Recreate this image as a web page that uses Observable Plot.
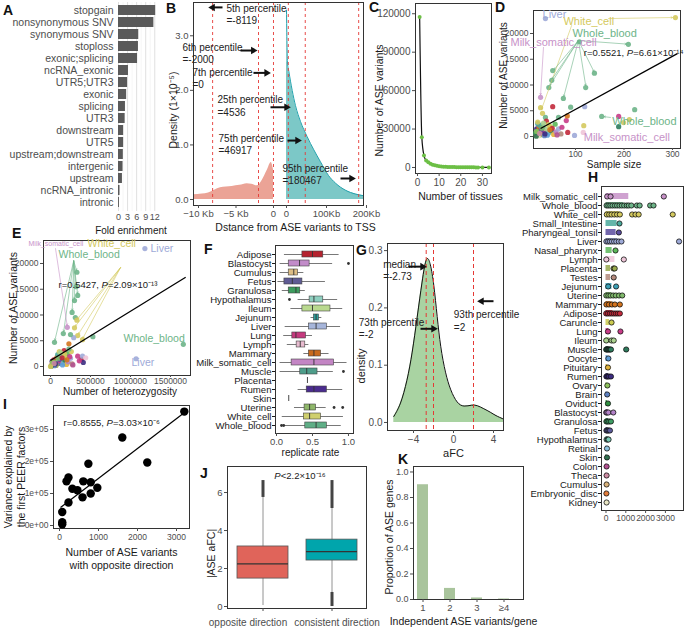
<!DOCTYPE html>
<html><head><meta charset="utf-8">
<script src="https://cdn.jsdelivr.net/npm/d3@7"></script>
<script src="https://cdn.jsdelivr.net/npm/@observablehq/plot@0.6"></script>
<style>
body{margin:0;background:#fff;}
#fig{position:relative;width:685px;height:628px;overflow:hidden;background:#fff;font-family:"Liberation Sans",Arial,Helvetica,sans-serif;}
.panel{position:absolute;}
.panel svg{max-width:none !important;overflow:visible;}
.lbl{position:absolute;font-weight:bold;font-size:14px;line-height:1;color:#111;font-family:"Liberation Sans",Arial,sans-serif;}
</style></head><body><div id="fig"></div><script>
// ================= DATA =================
// A
const annoCategories = ["stopgain","nonsynonymous SNV","synonymous SNV","stoploss","exonic;splicing","ncRNA_exonic","UTR5;UTR3","exonic","splicing","UTR3","downstream","UTR5","upstream;downstream","intergenic","upstream","ncRNA_intronic","intronic"];
const foldEnrichment = [12.3, 11.7, 6.7, 6.6, 6.3, 3.3, 3.0, 2.7, 2.3, 2.2, 1.7, 1.7, 1.6, 1.5, 1.3, 0.5, 0.3];
const foldTicks = [0, 3, 6, 9, 12];
// B
const upstreamPos = [-10667, -9500, -8667, -7067, -5511, -4500, -3511, -2900, -2178, -1511, -844, -311, -1];
const upstreamDensity = [0.086, 0.10, 0.12, 0.215, 0.24, 0.26, 0.29, 0.28, 0.25, 0.35, 0.53, 0.68, 0.55];
const downstreamPos = [0, 2500, 5800, 14200, 22500, 35000, 51700, 68300, 85000, 105000, 122500, 147500, 172500, 192500];
const downstreamDensity = [3.47, 2.5, 2.35, 2.0, 1.72, 1.43, 1.15, 0.91, 0.69, 0.44, 0.3, 0.17, 0.1, 0.07];
const tssPercentiles = [-8119, -2000, -1, 4536, 46917, 180467]; // -1 = TSS on upstream side
const tssTickValues = [-10000, -5000, -1, 0, 100000, 200000];
const tssTickLabels = ["\u221210 Kb", "\u22125 Kb", "0", "0", "100Kb", "200Kb"];
const bNotes = [
  {label: "5th percentile\n=-8119", x: -6267, y: 3.60},
  {label: "6th percentile\n=-2000", x: -12133, y: 2.89},
  {label: "7th percentile\n=0", x: -10800, y: 2.43},
  {label: "25th percentile\n=4536", x: -7467, y: 1.93},
  {label: "75th percentile\n=46917", x: -7333, y: 1.22}
];
const bNote95 = [{label: "95th percentile\n=180467", x: 0, y: 0.67}];
const bArrows = [
  {x1: -6800, x2: -8119, y: 3.52},
  {x1: -4400, x2: -2700, y: 2.73},
  {x1: -2670, x2: -930, y: 2.32},
  {x1: -400, x2: 0, y: 1.69},
  {x1: 2500, x2: 27500, y: 1.08},
  {x1: 135000, x2: 162500, y: 0.385}
];
// C
const tissueCount = [1,2,3,4,5,6,7,8,9,10,11,12,13,14,15,16,17,18,19,20,21,22,23,24,25,26,27,28,30,33];
const aseByTissueCount = [117500,23500,9300,5400,4100,3000,2200,1700,1300,1000,800,650,550,450,380,330,290,250,220,190,170,150,130,115,100,90,80,70,40,25];
// tissues & colours (D, E, H)
const hTissues = ["Milk_somatic_cell","Whole_blood","White_cell","Small_Intestine","Pharyngeal_tonsil","Liver","Nasal_pharynx","Lymph","Placenta","Testes","Jejunum","Uterine","Mammary","Adipose","Caruncle","Lung","Ileum","Muscle","Oocyte","Pituitary","Rumen","Ovary","Brain","Oviduct","Blastocyst","Granulosa","Fetus","Hypothalamus","Retinal","Skin","Colon","Theca","Cumulus","Embryonic_disc","Kidney"];
const hColors = ["#c792c8","#6db488","#d4c95e","#4aa99b","#5a4c9e","#9eaad8","#5db75a","#eec5d8","#98a84c","#b3897c","#3ba0b6","#80ba6c","#d4741e","#c2293b","#cbcb50","#c83c88","#aad18f","#2e7b5d","#5c9bd6","#e2b43b","#3c2c80","#8cc05b","#5d80c0","#308f40","#b382c8","#3e9c63","#5b5b9b","#78c8b2","#8cc0dd","#30704f","#b25190","#cb8ba2","#d8b27c","#e27c3b","#e8e5c4"];
const hBar = [1150,900,700,560,510,600,310,450,230,230,300,300,300,350,180,140,200,150,100,80,120,60,50,80,100,120,100,80,40,40,30,30,30,20,30];
const hPoints = [
 ["Milk_somatic_cell",60],["Milk_somatic_cell",230],["Milk_somatic_cell",2920],
 ["Whole_blood",30],["Whole_blood",120],["Whole_blood",220],["Whole_blood",330],["Whole_blood",450],["Whole_blood",560],["Whole_blood",680],["Whole_blood",800],["Whole_blood",920],["Whole_blood",1050],["Whole_blood",1150],["Whole_blood",1280],["Whole_blood",1560],["Whole_blood",1700],["Whole_blood",2230],["Whole_blood",2400],
 ["White_cell",40],["White_cell",160],["White_cell",280],["White_cell",420],["White_cell",560],["White_cell",700],["White_cell",1320],["White_cell",1490],["White_cell",1650],["White_cell",3370],
 ["Small_Intestine",680],["Pharyngeal_tonsil",650],
 ["Liver",20],["Liver",110],["Liver",200],["Liver",300],["Liver",410],["Liver",520],["Liver",650],["Liver",780],["Liver",3690],
 ["Nasal_pharynx",480],["Lymph",15],["Lymph",900],["Placenta",380],["Placenta",440],["Testes",390],
 ["Jejunum",110],["Jejunum",510],
 ["Uterine",15],["Uterine",120],["Uterine",230],["Uterine",360],["Uterine",500],["Uterine",660],["Uterine",820],
 ["Mammary",20],["Mammary",150],["Mammary",300],["Mammary",450],["Mammary",700],
 ["Adipose",10],["Adipose",100],["Adipose",200],["Adipose",300],["Adipose",400],["Adipose",500],["Adipose",600],["Adipose",700],
 ["Caruncle",280],["Lung",100],["Lung",730],["Ileum",10],["Ileum",280],["Ileum",390],
 ["Muscle",10],["Muscle",50],["Muscle",100],["Muscle",150],["Muscle",200],["Muscle",250],["Muscle",1020],
 ["Oocyte",120],["Pituitary",100],["Rumen",20],["Rumen",80],["Rumen",150],["Rumen",250],["Ovary",70],["Brain",60],["Oviduct",100],
 ["Blastocyst",10],["Blastocyst",50],["Blastocyst",120],["Blastocyst",370],
 ["Granulosa",20],["Granulosa",80],["Granulosa",160],["Granulosa",250],
 ["Fetus",20],["Fetus",70],["Fetus",130],["Fetus",200],
 ["Hypothalamus",30],["Hypothalamus",90],["Hypothalamus",130],
 ["Retinal",50],["Skin",50],["Colon",30],["Theca",30],["Cumulus",30],["Embryonic_disc",20],["Kidney",30]
];
const hTicks = [0, 1000, 2000, 3000];
// D  [sample size, ASE variants, tissue]
const dPoints = [
 [38,22900,"Liver"],[306,23100,"White_cell"],[209,17900,"Whole_blood"],[108,18400,"Whole_blood"],
 [53,12800,"Whole_blood"],[139,12300,"Whole_blood"],[121,9500,"Whole_blood"],[51,10900,"Whole_blood"],
 [45,9500,"Whole_blood"],[75,7400,"Whole_blood"],[28,7600,"Milk_somatic_cell"],[119,5800,"Liver"],
 [222,5200,"Whole_blood"],[154,3900,"Whole_blood"],[90,5700,"Whole_blood"],[53,5800,"Adipose"],
 [81,3100,"Lung"],[83,4000,"Mammary"],[117,2100,"White_cell"],[116,800,"Lymph"],[189,3900,"Lung"],
 [189,1900,"Muscle"],[199,2700,"White_cell"],[211,3300,"White_cell"],[84,800,"Adipose"],[98,200,"Liver"],
 [32,4500,"White_cell"],[28,5600,"White_cell"],[38,3700,"Whole_blood"],[65,3700,"Whole_blood"],[22,2500,"Jejunum"],
 [20,1500,"Rumen"],[24,1200,"Adipose"],[21,900,"Uterine"],[25,1800,"Mammary"],[30,600,"Fetus"],[35,1000,"Lung"],
 [40,1400,"Ileum"],[45,700,"Hypothalamus"],[50,1100,"Muscle"],[55,400,"Pituitary"],[60,900,"Blastocyst"],
 [19,300,"Cumulus"],[26,2200,"Small_Intestine"],[18,700,"Granulosa"],[27,300,"Placenta"],[33,2000,"Whole_blood"],
 [42,250,"Oocyte"],[48,1900,"Caruncle"],[65,1500,"Liver"],[70,500,"Testes"],[22,2800,"White_cell"],
 [23,100,"Kidney"],[36,150,"Brain"],[58,2400,"Nasal_pharynx"],[19,50,"Skin"],[29,1300,"Pharyngeal_tonsil"],
 [40,3000,"Adipose"],[72,1800,"Lung"],[20,1000,"Ovary"],[31,1600,"Uterine"],[44,2300,"White_cell"],
 [37,500,"Rumen"],[52,1600,"Adipose"],[62,300,"Colon"],[26,600,"Theca"],[34,2600,"Ileum"],[47,1300,"Mammary"]
];
const dFit = [[28, 1550], [310, 16100]];
const dLabels = [
 ["Liver", 32, 23700, "Liver"], ["White_cell", 75, 22300, "White_cell"], ["Whole_blood", 94, 20000, "Whole_blood"],
 ["Milk_somatic_cell", -34, 18250, "Milk_somatic_cell"], ["Whole_blood", 176, 2900, "Whole_blood"],
 ["Milk_somatic_cell", 117, -200, "Milk_somatic_cell"]
];
const dArrows = [
 [168,22900,300,23100,"White_cell"],[92,21550,30,5300,"White_cell"],
 [106,18640,205,17950,"Whole_blood"],[106,18640,56,13000,"Whole_blood"],[106,18640,138,12600,"Whole_blood"],
 [106,18640,121,9900,"Whole_blood"],[106,18640,52,11200,"Whole_blood"],[106,18640,47,9900,"Whole_blood"],
 [106,18640,76,7800,"Whole_blood"],[34,17300,28,8100,"Milk_somatic_cell"],[172,3700,159,3850,"Whole_blood"]
];
const dStat = "r=0.5521, P=6.61\u00d710\u207b\u00b9\u2074";
// E [heterozygosity, ASE variants, tissue]
const ePoints = [
 [1180000,22900,"Liver"],[330000,18300,"Whole_blood"],[340000,13800,"Whole_blood"],[300000,12800,"Whole_blood"],
 [320000,15500,"Whole_blood"],[270000,10500,"Whole_blood"],[310000,9500,"Whole_blood"],[160000,6400,"Whole_blood"],
 [50000,4700,"Whole_blood"],[530000,5800,"Whole_blood"],[210000,7600,"Milk_somatic_cell"],[1660000,4300,"Whole_blood"],
 [1070000,1500,"Liver"],[330000,9000,"White_cell"],[300000,7500,"White_cell"],[340000,6000,"White_cell"],
 [400000,5200,"White_cell"],[290000,5600,"Liver"],[230000,4400,"Mammary"],[340000,2000,"Lung"],[390000,1400,"Adipose"],
 [410000,800,"Rumen"],[360000,1100,"Lung"],[400000,2000,"Liver"],[440000,1700,"Lymph"],[250000,6200,"Whole_blood"],
 [20000,1000,"Rumen"],[40000,1300,"Adipose"],[60000,800,"Uterine"],[80000,1800,"Mammary"],[100000,600,"Fetus"],
 [120000,1100,"Lung"],[140000,1500,"Ileum"],[160000,700,"Hypothalamus"],[180000,1200,"Muscle"],[200000,400,"Pituitary"],
 [220000,900,"Blastocyst"],[10000,300,"Cumulus"],[90000,2300,"Small_Intestine"],[30000,600,"Granulosa"],[70000,200,"Placenta"],
 [130000,2100,"Whole_blood"],[150000,300,"Oocyte"],[190000,2000,"Caruncle"],[250000,1600,"Liver"],[270000,500,"Testes"],
 [110000,2900,"White_cell"],[5000,100,"Kidney"],[50000,150,"Brain"],[210000,2500,"Nasal_pharynx"],[8000,50,"Skin"],
 [115000,1400,"Pharyngeal_tonsil"],[170000,3100,"Adipose"],[240000,1900,"Lung"],[25000,900,"Ovary"],[95000,1600,"Uterine"],
 [175000,2400,"White_cell"],[60000,500,"Rumen"],[145000,1700,"Adipose"],[280000,300,"Colon"],[45000,600,"Theca"],
 [125000,2700,"Ileum"],[205000,1300,"Mammary"],[260000,2900,"White_cell"],[230000,3400,"Whole_blood"],[0,0,"White_cell"]
];
const eFit = [[0, 1170], [1690000, 17340]];
const eLabels = [
 ["White_cell", 462500, 23900, "White_cell", 10.5],
 ["Whole_blood", 100000, 21750, "Whole_blood", 10.5], ["Liver", 1250000, 22900, "Liver", 10.5],
 ["Whole_blood", 912500, 5440, "Whole_blood", 10.5], ["Liver", 1012500, 780, "Liver", 10.5],
 ["Milk_somatic_cell", -275000, 23900, "Milk_somatic_cell", 7]
];
const eArrows = [
 [290000,20500,325000,18700,"Whole_blood"],[290000,20500,338000,14200,"Whole_blood"],[290000,20500,300000,13200,"Whole_blood"],
 [290000,20500,318000,15900,"Whole_blood"],[290000,20500,272000,10900,"Whole_blood"],[290000,20500,165000,6800,"Whole_blood"],
 [290000,20500,55000,5100,"Whole_blood"],[875000,19200,340000,9300,"White_cell"],[875000,19200,310000,7800,"White_cell"],
 [875000,19200,350000,6300,"White_cell"],[875000,19200,405000,5500,"White_cell"],[62500,22900,208000,8000,"Milk_somatic_cell"]
];
const eStat = "r=0.5427, P=2.09\u00d710\u207b\u00b9\u00b3";
// F
const fTissues = ["Adipose","Blastocyst","Cumulus","Fetus","Granulosa","Hypothalamus","Ileum","Jejunum","Liver","Lung","Lymph","Mammary","Milk_somatic_cell","Muscle","Placenta","Rumen","Skin","Uterine","White_cell","Whole_blood"];
const fLow = [0.11,0.05,0.05,0.02,0.08,0.30,0.20,0.48,0.12,0.10,0.15,0.38,0.05,0.05,0.43,0.30,0.17,0.25,0.08,0.10];
const fQ1 =  [0.36,0.17,0.17,0.11,0.17,0.46,0.36,0.52,0.45,0.22,0.28,0.45,0.21,0.33,0.43,0.42,0.17,0.39,0.38,0.40];
const fMed = [0.50,0.32,0.24,0.22,0.27,0.52,0.50,0.55,0.55,0.27,0.33,0.52,0.52,0.42,0.43,0.52,0.17,0.46,0.46,0.55];
const fQ3 =  [0.65,0.46,0.30,0.36,0.33,0.65,0.75,0.59,0.70,0.41,0.40,0.62,0.80,0.57,0.43,0.70,0.17,0.55,0.62,0.70];
const fHigh = [0.87,0.78,0.38,0.68,0.40,0.85,0.92,0.63,0.89,0.50,0.45,0.73,0.98,0.79,0.43,0.92,0.17,0.69,0.93,0.90];
const fColors = ["#b5232f","#c28cc9","#dcbd85","#5f5b94","#3d9c5e","#8fd0c0","#b9d98f","#2c9e9b","#a6b5da","#c43a7e","#e8bcd0","#c86a1d","#c385c4","#4e9d8a","#98a84c","#4a2c8e","#30704f","#8fb76a","#cfcf6e","#5fae86"];
const fOutliers = [["Blastocyst",1.0],["Hypothalamus",0.18],["Muscle",0.93],["Uterine",0.80],["Uterine",0.92],["Whole_blood",0.07],["Whole_blood",0.10]];
// G
const gAfc = [-5.97,-5.3,-4.63,-4.13,-3.63,-3.13,-2.7,-2.3,-1.97,-1.63,-1.3,-0.8,-0.3,0.37,1.03,1.87,2.37,3.03,3.7,4.2,5.0];
const gDensity = [0.0105,0.03,0.073,0.12,0.184,0.248,0.295,0.278,0.243,0.184,0.131,0.085,0.056,0.033,0.027,0.031,0.030,0.024,0.018,0.012,0.006];
const gMarkers = [-2.73, -2, 2];
const gNotes = [
  {label: "median\n=-2.73", x: -7.03, y: 0.286},
  {label: "73th percentile\n=-2", x: -9.47, y: 0.184},
  {label: "93th percentile\n=2", x: 0.03, y: 0.197}
];
const gArrows = [
  {x1: -4.5, x2: -3.1, y: 0.272},
  {x1: -3.3, x2: -2.0, y: 0.1635},
  {x1: 4.0, x2: 2.8, y: 0.2117}
];
// I
const iPoints = [[3200,356000],[1610,275000],[2250,197000],[740,193000],[230,150000],[180,138000],[610,138000],[800,135000],[330,115000],[460,110000],[970,118000],[800,100000],[590,88000],[230,72000],[70,42000],[70,10000],[70,4000]];
const iFit = [[26, 56000], [3205, 353000]];
const iYTicks = [0, 100000, 200000, 300000];
const iYLabels = ["0e+00", "1e+05", "2e+05", "3e+05"];
const iStat = "r=0.8555, P=3.03\u00d710\u207b\u2076";
// J
const jGroups = ["opposite direction", "consistent direction"];
const jLow = [0.05, 0.74], jQ1 = [1.47, 2.42], jMed = [2.24, 2.89], jQ3 = [3.16, 3.52], jHigh = [5.74, 5.16];
const jColors = ["#e0645a", "#00a5ac"];
const jOutlierRuns = [["opposite direction", 5.74, 6.63], ["consistent direction", 5.16, 6.63], ["consistent direction", 0.0, 0.74]];
const jStat = "P<2.2\u00d710\u207b\u00b9\u2076";
// K
const kCats = ["1", "2", "3", "\u22654"];
const kProportion = [0.90, 0.087, 0.012, 0.004];

// ================= HELPERS =================
const fig = document.getElementById("fig");
const FONT = '"Liberation Sans", Arial, Helvetica, sans-serif';
const GREY = "#4d4d4d";
const INK = "#1a1a1a";
function place(svg, left, top) {
  const d = document.createElement("div");
  d.className = "panel"; d.style.left = left + "px"; d.style.top = top + "px";
  d.appendChild(svg); fig.appendChild(d);
}
function letter(t, left, top) {
  const d = document.createElement("div");
  d.className = "lbl"; d.textContent = t; d.style.left = left + "px"; d.style.top = top + "px";
  fig.appendChild(d);
}
function st(fs) { return {fontFamily: FONT, fontSize: fs + "px", background: "transparent", overflow: "visible", maxWidth: "none", color: INK}; }
const colorOf = t => hColors[hTissues.indexOf(t)];
const num = d => String(d);
const xTitle = (t, dx, dy, fs = 10.5) => Plot.text([t], {frameAnchor: "bottom", lineAnchor: "middle", textAnchor: "middle", dx, dy, fontSize: fs, fill: INK, lineHeight: 1.25});
const yTitle = (t, dx, dy, fs = 10.5) => Plot.text([t], {frameAnchor: "left", lineAnchor: "middle", textAnchor: "middle", rotate: -90, dx, dy, fontSize: fs, fill: INK, lineHeight: 1.2});

// ================= A =================
const annoTable = annoCategories.map((c, i) => ({category: c, fold: foldEnrichment[i]}));
place(Plot.plot({
  width: 165, height: 235, marginLeft: 118, marginRight: 8, marginTop: 2, marginBottom: 24,
  style: st(9),
  x: {domain: [0, 12.9]},
  y: {domain: annoCategories, padding: 0.13},
  marks: [
    Plot.gridX({ticks: [1.5, 4.5, 7.5, 10.5], stroke: "#f0f0f0", strokeOpacity: 1, strokeWidth: 0.6}),
    Plot.gridX({ticks: foldTicks, stroke: "#e0e0e0", strokeOpacity: 1}),
    Plot.barX(annoTable, {x: "fold", y: "category", fill: "#5a5a5a"}),
    Plot.axisY({tickSize: 0, tickPadding: 5, fontSize: 10.5, color: GREY, label: null}),
    Plot.axisX({ticks: foldTicks, tickSize: 0, tickPadding: 2, color: GREY, label: null, tickFormat: num}),
    xTitle("Fold enrichment", -7, 18, 10)
  ]
}), 0, 0);

// ================= B =================
const tssU = v => v < 0 ? v / 1000 : 1.733 + v * 0.4 / 7500;
const tssTickU = tssTickValues.map(tssU);
const upTable = upstreamPos.map((p, i) => ({pos: p, density: upstreamDensity[i]}));
const downTable = downstreamPos.map((p, i) => ({pos: p, density: downstreamDensity[i]}));
const arrowHead = (data, xf, yf) => Plot.dot(data, {x: xf, y: yf, symbol: "triangle2", r: 3.6, fill: "#111", rotate: d => d.x2 > d.x1 ? 90 : -90});
place(Plot.plot({
  width: 215, height: 235, marginLeft: 33, marginRight: 12, marginTop: 2, marginBottom: 30,
  style: st(9.5),
  x: {domain: [-10.667, 12.0]},
  y: {domain: [-0.11, 3.61]},
  marks: [
    Plot.areaY(upTable, {x: d => tssU(d.pos), y: "density", fill: "#eba396", curve: "monotone-x"}),
    Plot.areaY(downTable, {x: d => tssU(d.pos), y: "density", fill: "#7cc8c7", curve: "monotone-x"}),
    Plot.line(downTable, {x: d => tssU(d.pos), y: "density", stroke: "#22a2ad", strokeWidth: 1, curve: "monotone-x"}),
    Plot.ruleX(tssPercentiles, {x: tssU, stroke: "#e53935", strokeDasharray: "3,3", strokeWidth: 0.9}),
    Plot.frame({stroke: "#333"}),
    Plot.axisY({ticks: [0, 1, 2, 3], tickSize: 3, tickPadding: 2, color: GREY, label: null}),
    Plot.axisX({ticks: tssTickU, tickFormat: u => tssTickLabels[tssTickU.indexOf(u)], tickSize: 3, tickPadding: 2, color: GREY, label: null}),
    Plot.text(bNotes, {x: d => tssU(d.x), y: "y", text: "label", textAnchor: "start", lineAnchor: "top", lineHeight: 1.25, fontSize: 10, fill: "#222"}),
    Plot.text(bNote95, {x: d => tssU(d.x), y: "y", text: "label", textAnchor: "start", lineAnchor: "top", lineHeight: 1.25, fontSize: 10, fill: "#222", dx: -4}),
    Plot.link(bArrows, {x1: d => tssU(d.x1), x2: d => tssU(d.x2), y1: "y", y2: "y", stroke: "#111", strokeWidth: 2}),
    arrowHead(bArrows, d => tssU(d.x2), "y"),
    yTitle("Density (1\u00d710\u207b\u2075)", -21, 6),
    xTitle("Dstance from ASE variants to TSS", 17, 21)
  ]
}), 160, 0);

// ================= C =================
const cTable = tissueCount.map((n, i) => ({n, count: aseByTissueCount[i]}));
place(Plot.plot({
  width: 130, height: 205, marginLeft: 45, marginRight: 9, marginTop: 3, marginBottom: 32,
  style: st(10),
  x: {domain: [-0.92, 34.2]}, y: {domain: [-4700, 128000]},
  marks: [
    Plot.frame({stroke: "#333"}),
    Plot.line(cTable, {x: "n", y: "count", stroke: "#111", strokeWidth: 1.2, curve: "monotone-x"}),
    Plot.dot(cTable, {x: "n", y: "count", r: 2, fill: "#6cbf45"}),
    Plot.axisY({ticks: [0, 30000, 60000, 90000, 120000], tickFormat: num, tickSize: 3, tickPadding: 2, color: GREY, label: null}),
    Plot.axisX({ticks: [0, 10, 20, 30], tickFormat: num, tickSize: 3, tickPadding: 2, color: GREY, label: null}),
    yTitle("Number of ASE variants", -37, 12),
    xTitle("Number of tissues", 7, 22)
  ]
}), 370, 0);

// ================= D =================
place(Plot.plot({
  width: 190, height: 170, marginLeft: 38, marginRight: 5, marginTop: 10, marginBottom: 22,
  style: st(8.5),
  x: {domain: [13.4, 316.5]}, y: {domain: [-2330, 24466]},
  marks: [
    Plot.frame({stroke: "#333"}),
    Plot.dot(dPoints, {x: d => d[0], y: d => d[1], r: 2.6, fill: d => colorOf(d[2]), fillOpacity: 0.9}),
    Plot.arrow(dArrows, {x1: d => d[0], y1: d => d[1], x2: d => d[2], y2: d => d[3], stroke: d => colorOf(d[4]), strokeWidth: 0.6, headLength: 4}),
    Plot.link([dFit], {x1: d => d[0][0], y1: d => d[0][1], x2: d => d[1][0], y2: d => d[1][1], stroke: "#000", strokeWidth: 1.3}),
    Plot.text(dLabels, {x: d => d[1], y: d => d[2], text: d => d[0], fill: d => colorOf(d[3]), textAnchor: "start", fontSize: 11}),
    Plot.text([dStat], {x: 117, y: 16300, textAnchor: "start", fontSize: 9.5, fill: INK}),
    Plot.axisY({ticks: [0, 5000, 10000, 15000, 20000], tickFormat: num, tickSize: 3, tickPadding: 2, color: GREY, label: null}),
    Plot.axisX({ticks: [100, 200, 300], tickFormat: num, tickSize: 2, tickPadding: 0, color: GREY, label: null}),
    yTitle("Number of ASE variants", -30, -4, 10),
    xTitle("Sample size", 7, 15, 10)
  ]
}), 495, 0);

// ================= E =================
place(Plot.plot({
  width: 200, height: 185, marginLeft: 43, marginRight: 10, marginTop: 25, marginBottom: 25,
  style: st(8.5),
  x: {domain: [-87500, 1750000]}, y: {domain: [-1748, 24466]},
  marks: [
    Plot.frame({stroke: "#333"}),
    Plot.dot(ePoints, {x: d => d[0], y: d => d[1], r: 2.6, fill: d => colorOf(d[2]), fillOpacity: 0.9}),
    Plot.arrow(eArrows, {x1: d => d[0], y1: d => d[1], x2: d => d[2], y2: d => d[3], stroke: d => colorOf(d[4]), strokeWidth: 0.6, headLength: 4}),
    Plot.link([eFit], {x1: d => d[0][0], y1: d => d[0][1], x2: d => d[1][0], y2: d => d[1][1], stroke: "#000", strokeWidth: 1.3}),
    Plot.text(eLabels, {x: d => d[1], y: d => d[2], text: d => d[0], fill: d => colorOf(d[3]), fontSize: d => d[4], textAnchor: "start"}),
    Plot.text([eStat], {x: 100000, y: 15900, textAnchor: "start", fontSize: 9.5, fill: INK}),
    Plot.axisY({ticks: [0, 5000, 10000, 15000, 20000], tickFormat: num, tickSize: 3, tickPadding: 2, color: GREY, label: null}),
    Plot.axisX({ticks: [0, 500000, 1000000, 1500000], tickFormat: num, tickSize: 2, tickPadding: 0, color: GREY, label: null}),
    yTitle("Number of ASE variants", -31, 0),
    xTitle("Number of heterozygosity", 3, 15.5, 10)
  ]
}), 0, 215);

// ================= F =================
const fTable = fTissues.map((t, i) => ({tissue: t, low: fLow[i], q1: fQ1[i], med: fMed[i], q3: fQ3[i], high: fHigh[i], color: fColors[i]}));
place(Plot.plot({
  width: 210, height: 220, marginLeft: 125, marginRight: 7, marginTop: 5, marginBottom: 27,
  style: st(9.5),
  x: {domain: [-0.014, 1.07]},
  y: {type: "band", domain: fTissues, range: [7.7, 191.3], paddingInner: 0.28, paddingOuter: 0.14},
  marks: [
    Plot.frame({stroke: "#333"}),
    Plot.ruleY(fTable, {y: "tissue", x1: "low", x2: "high", stroke: "#555", strokeWidth: 0.8}),
    Plot.barX(fTable, {y: "tissue", x1: "q1", x2: "q3", fill: "color", stroke: "#444", strokeWidth: 0.6}),
    Plot.tickX(fTable, {y: "tissue", x: "med", stroke: "#333", strokeWidth: 0.9}),
    Plot.dot(fOutliers, {x: d => d[1], y: d => d[0], r: 1.4, fill: "#333"}),
    Plot.axisY({tickSize: 3, tickPadding: 1, fontSize: 9.6, color: INK, label: null}),
    Plot.axisX({ticks: [0, 0.5, 1], tickFormat: d3.format(".1f"), tickSize: 3, tickPadding: 2, color: GREY, label: null}),
    xTitle("replicate rate", -4, 18, 10)
  ]
}), 150, 240);

// ================= G =================
const gTable = gAfc.map((a, i) => ({afc: a, density: gDensity[i]}));
place(Plot.plot({
  width: 215, height: 220, marginLeft: 97, marginRight: 2, marginTop: 3, marginBottom: 30,
  style: st(10),
  x: {domain: [-6.6, 5.0]}, y: {domain: [-0.014, 0.3124]},
  marks: [
    Plot.areaY(gTable, {x: "afc", y: "density", fill: "#a9d3a2", curve: "basis"}),
    Plot.line(gTable, {x: "afc", y: "density", stroke: "#111", strokeWidth: 1, curve: "basis"}),
    Plot.ruleX(gMarkers, {stroke: "#e53935", strokeDasharray: "4,3", strokeWidth: 1}),
    Plot.frame({stroke: "#333"}),
    Plot.text(gNotes, {x: "x", y: "y", text: "label", textAnchor: "start", lineAnchor: "top", lineHeight: 1.25, fontSize: 10, fill: "#222"}),
    Plot.link(gArrows, {x1: "x1", x2: "x2", y1: "y", y2: "y", stroke: "#111", strokeWidth: 2}),
    arrowHead(gArrows, "x2", "y"),
    Plot.axisY({ticks: [0, 0.1, 0.2, 0.3], tickFormat: d3.format(".1f"), tickSize: 3, tickPadding: 2, color: GREY, label: null}),
    Plot.axisX({ticks: [-4, 0, 4], tickFormat: d => d < 0 ? "\u2212" + (-d) : String(d), tickSize: 3, tickPadding: 2, color: GREY, label: null}),
    yTitle("density", -27, 29, 11),
    xTitle("aFC", 8, 22, 11)
  ]
}), 290, 240);

// ================= H =================
const hTable = hTissues.map((t, i) => ({tissue: t, bar: hBar[i], color: hColors[i]}));
const hPointTable = hPoints.map(([t, v]) => ({tissue: t, value: v, color: colorOf(t)}));
place(Plot.plot({
  width: 170, height: 358, marginLeft: 86, marginRight: 2, marginTop: 16, marginBottom: 18,
  style: st(9.5),
  x: {domain: [-227, 3914]},
  y: {type: "band", domain: hTissues, range: [16.35, 341.65], paddingInner: 0.3, paddingOuter: 0.15},
  marks: [
    Plot.frame({stroke: "#333"}),
    Plot.barX(hTable, {y: "tissue", x: "bar", fill: "color", fillOpacity: 0.85}),
    Plot.dot(hPointTable, {y: "tissue", x: "value", fill: "color", stroke: "#111", strokeWidth: 0.8, r: 2.6}),
    Plot.axisY({tickSize: 3, tickPadding: 1, fontSize: 9.5, color: INK, label: null}),
    Plot.axisX({ticks: hTicks, tickFormat: num, tickSize: 3, tickPadding: 1, fontSize: 8.5, color: GREY, label: null})
  ]
}), 515, 170);

// ================= I =================
place(Plot.plot({
  width: 200, height: 175, marginLeft: 53, marginRight: 11, marginTop: 5, marginBottom: 47,
  style: st(8.5),
  x: {domain: [-154, 3333]}, y: {domain: [-9375, 375000]},
  marks: [
    Plot.frame({stroke: "#333"}),
    Plot.link([iFit], {x1: d => d[0][0], y1: d => d[0][1], x2: d => d[1][0], y2: d => d[1][1], stroke: "#000", strokeWidth: 1.2}),
    Plot.dot(iPoints, {x: d => d[0], y: d => d[1], r: 4.2, fill: "#000"}),
    Plot.text([iStat], {x: 103, y: 322000, textAnchor: "start", fontSize: 9.5, fill: INK}),
    Plot.axisY({ticks: iYTicks, tickFormat: d => iYLabels[iYTicks.indexOf(d)], tickSize: 3, tickPadding: 2, color: GREY, label: null}),
    Plot.axisX({ticks: [0, 1000, 2000, 3000], tickFormat: num, tickSize: 3, tickPadding: 2, color: GREY, label: null}),
    yTitle("Variance explained by\nthe first PEER factors", -39, 10),
    xTitle("Number of ASE variants\nwith opposite direction", 0, 29.5)
  ]
}), 0, 400);

// ================= J =================
const jTable = jGroups.map((g, i) => ({group: g, low: jLow[i], q1: jQ1[i], med: jMed[i], q3: jQ3[i], high: jHigh[i], color: jColors[i]}));
place(Plot.plot({
  width: 185, height: 168, marginLeft: 27, marginRight: 19, marginTop: 6, marginBottom: 20,
  style: st(9.5),
  x: {type: "band", domain: jGroups, padding: 0},
  y: {domain: [-0.105, 7.37]},
  marks: [
    Plot.frame({stroke: "#333"}),
    Plot.ruleX(jTable, {x: "group", y1: "low", y2: "high", stroke: "#777", strokeWidth: 0.8}),
    Plot.ruleX(jOutlierRuns, {x: d => d[0], y1: d => d[1], y2: d => d[2], stroke: "#444", strokeWidth: 3}),
    Plot.barY(jTable, {x: "group", y1: "q1", y2: "q3", fill: "color", stroke: "#555", strokeWidth: 0.8, insetLeft: 9, insetRight: 9}),
    Plot.tickY(jTable, {x: "group", y: "med", stroke: "#333", strokeWidth: 1.3, insetLeft: 9, insetRight: 9}),
    Plot.text([jStat], {frameAnchor: "top", lineAnchor: "middle", dx: 3, dy: 9, fontSize: 9.5, fill: INK}),
    Plot.axisY({ticks: [0, 2, 4, 6], tickFormat: num, tickSize: 3, tickPadding: 2, color: GREY, label: null}),
    Plot.axisX({tickSize: 3, tickFormat: () => "", color: GREY, label: null}),
    Plot.text([jGroups[0]], {x: d => d, frameAnchor: "bottom", lineAnchor: "middle", dy: 14, dx: -15, fontSize: 10, fill: GREY}),
    Plot.text([jGroups[1]], {x: d => d, frameAnchor: "bottom", lineAnchor: "middle", dy: 14, dx: 5, fontSize: 10, fill: GREY}),
    yTitle("|ASE aFC|", -17, 16)
  ]
}), 200, 460);

// ================= K =================
const kTable = kCats.map((c, i) => ({cat: c, proportion: kProportion[i]}));
place(Plot.plot({
  width: 160, height: 168, marginLeft: 43, marginRight: 7, marginTop: 6, marginBottom: 29,
  style: st(9),
  x: {type: "band", domain: kCats, range: [38.5, 147.8], paddingInner: 0.6, paddingOuter: 0.3},
  y: {domain: [0, 1.043]},
  marks: [
    Plot.frame({stroke: "#333"}),
    Plot.barY(kTable, {x: "cat", y: "proportion", fill: "#a9c49c"}),
    Plot.axisY({ticks: [0, 0.2, 0.4, 0.6, 0.8, 1.0], tickFormat: d3.format(".1f"), tickSize: 3, tickPadding: 2, color: GREY, label: null}),
    Plot.axisX({tickSize: 3, tickPadding: 2, fontSize: 9.5, color: GREY, label: null}),
    yTitle("Proportion of ASE genes", -25, 4),
    xTitle("Independent ASE variants/gene", -5, 21)
  ]
}), 370, 460);

// ================= italic P in statistics =================
fig.querySelectorAll("text").forEach(t => {
  if (t.children.length) return;
  const m = /^(.*?)(P)([=<].*)$/.exec(t.textContent);
  if (!m || !/^(r=|$)/.test(m[1])) return;
  t.textContent = "";
  const ns = "http://www.w3.org/2000/svg";
  const a = document.createElementNS(ns, "tspan"); a.textContent = m[1];
  const b = document.createElementNS(ns, "tspan"); b.textContent = m[2]; b.setAttribute("font-style", "italic");
  const c = document.createElementNS(ns, "tspan"); c.textContent = m[3];
  t.append(a, b, c);
});

// ================= panel letters =================
letter("A", 3, 3); letter("B", 166, 1); letter("C", 369, 0); letter("D", 495, 0);
letter("E", 12, 226); letter("F", 204, 242); letter("G", 356, 243); letter("H", 588, 170);
letter("I", 3, 397); letter("J", 200, 466); letter("K", 398, 452);
</script></body></html>
